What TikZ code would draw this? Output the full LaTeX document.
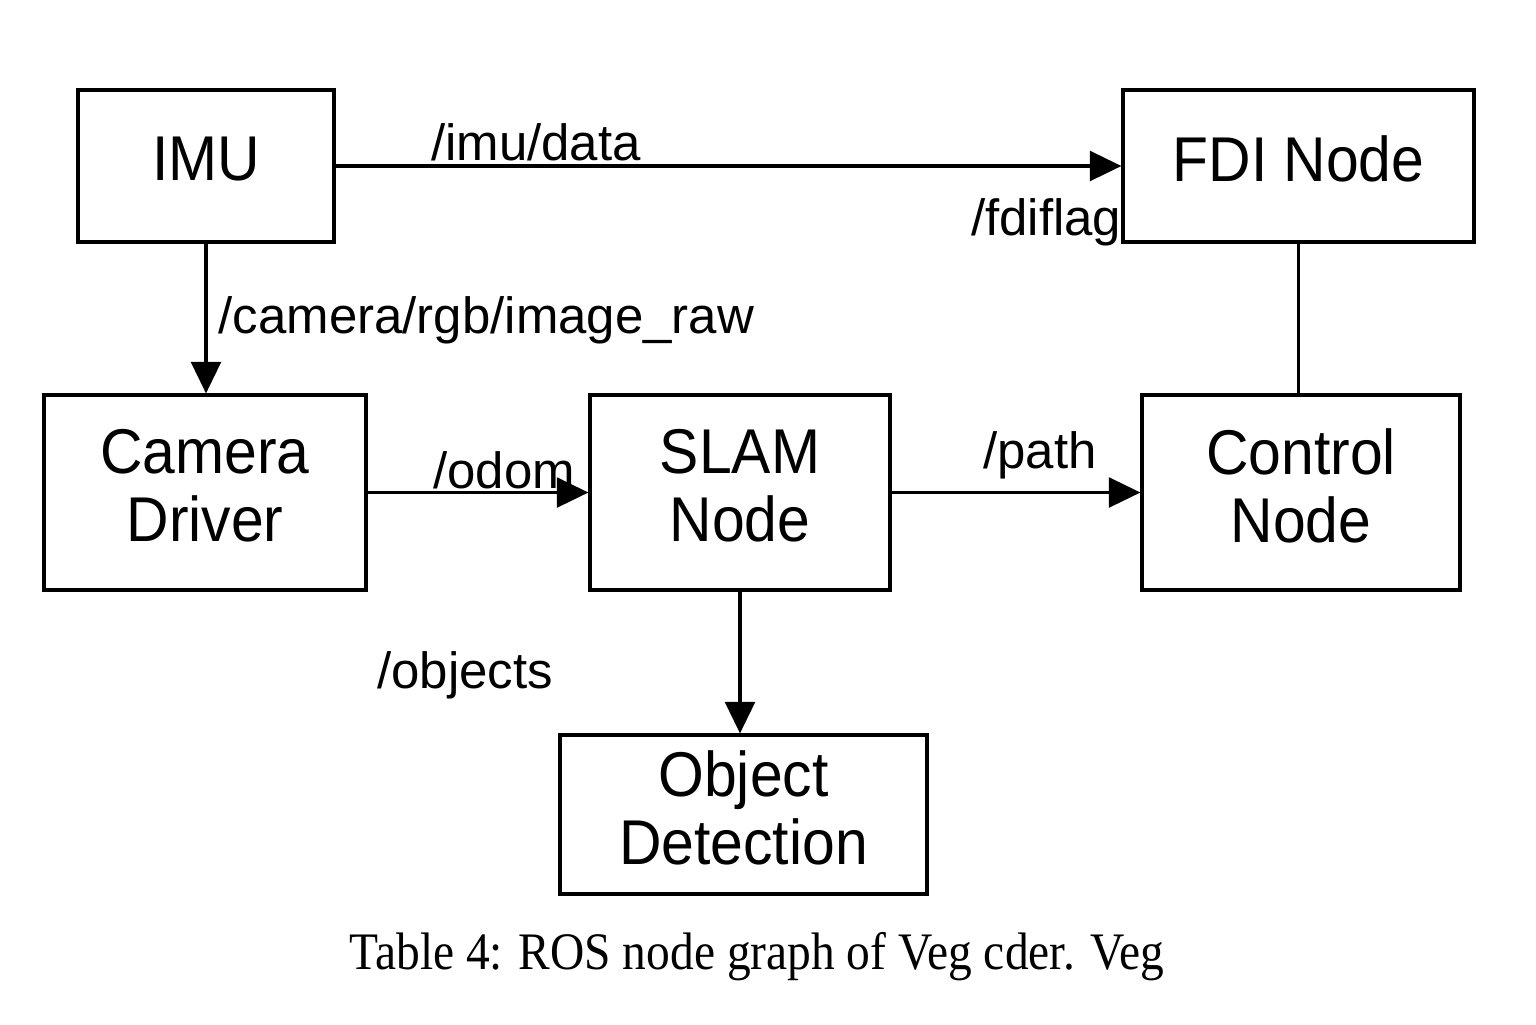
\documentclass[tikz,border=0pt]{standalone}
\usepackage{fontspec}
\setmainfont{Liberation Serif}
\setsansfont{Liberation Sans}
\newfontfamily\boxfont{Liberation Sans}[FakeStretch=0.93]
\newfontfamily\capfont{Liberation Serif}[FakeStretch=0.9]
\usetikzlibrary{arrows.meta}

\begin{document}
\begin{tikzpicture}[
    box/.style={draw, rectangle, line width=0.9pt, align=center, inner sep=0pt, text depth=0.14cm,
        font=\boxfont\fontsize{18}{19.5}\selectfont},
    topic/.style={inner sep=0pt, font=\sffamily\fontsize{14.5}{16}\selectfont},
    link/.style={line width=0.9pt, -{Triangle[length=9pt,width=8.5pt]}}
]
    \useasboundingbox (0,0) rectangle (15.36,-10.24);

    \node [box, minimum width=2.56cm, minimum height=1.52cm] (imu) at (2.06,-1.66) {IMU};
    \node [box, minimum width=3.51cm, minimum height=1.52cm] (fdi) at (12.985,-1.66) {FDI Node};
    \node [box, minimum width=3.22cm, minimum height=1.95cm] (camera) at (2.05,-4.925) {Camera\\Driver};
    \node [box, minimum width=3.00cm, minimum height=1.95cm] (slam) at (7.40,-4.925) {SLAM\\Node};
    \node [box, minimum width=3.18cm, minimum height=1.95cm] (control) at (13.01,-4.925) {Control\\Node};
    \node [box, minimum width=3.67cm, minimum height=1.59cm] (objdet) at (7.435,-8.145) {Object\\Detection};

    \node [topic] (imudata) at (5.36,-1.42) {/imu/data};
    \node [topic, anchor=east] (fdiflag) at (11.22,-2.22) {/fdiflag};
    \node [topic, anchor=west] (image) at (2.18,-3.20) {/camera/rgb/image\_raw};
    \node [topic] (odom) at (5.04,-4.70) {/odom};
    \node [topic] (path) at (10.40,-4.55) {/path};
    \node [topic] (objects) at (4.65,-6.75) {/objects};

    \node [font=\capfont\fontsize{15}{17}\selectfont] (caption) at (7.57,-9.57) {Table 4: ROS node graph of Veg cder. Veg};

    \draw[link] (imu) -- (fdi);
    \draw[link] (imu.south) -- (imu.south |- camera.north);
    \draw[link] (camera) -- (slam);
    \draw[link] (slam) -- (control);
    \draw[line width=0.9pt] (fdi.south) -- (fdi.south |- control.north);
    \draw[link] (slam.south) -- (slam.south |- objdet.north);
\end{tikzpicture}
\end{document}
